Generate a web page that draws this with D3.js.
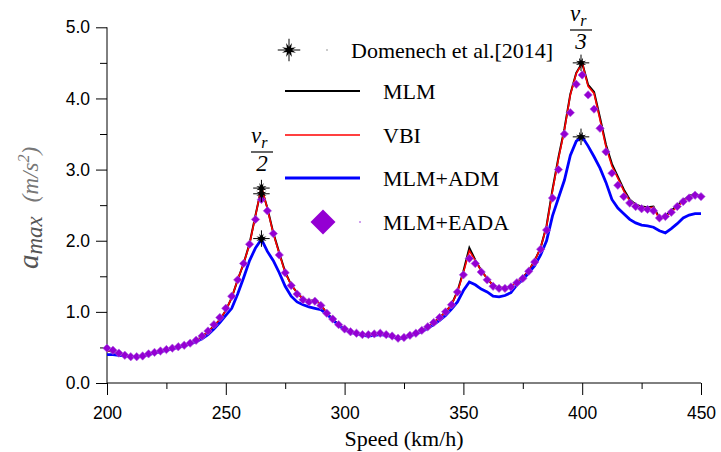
<!DOCTYPE html>
<html>
<head>
<meta charset="utf-8">
<script src="https://cdn.jsdelivr.net/npm/d3@7"></script>
<style>
  body { margin: 0; background: #fff; }
  svg { display: block; }
</style>
</head>
<body>
<div id="chart"></div>
<script>
// speed grid (km/h), 2.5 steps
var speeds = [200,202.5,205,207.5,210,212.5,215,217.5,220,222.5,225,227.5,230,232.5,235,237.5,240,242.5,245,247.5,
  250,252.5,255,257.5,260,262.5,265,267.5,270,272.5,275,277.5,280,282.5,285,287.5,290,292.5,295,297.5,
  300,302.5,305,307.5,310,312.5,315,317.5,320,322.5,325,327.5,330,332.5,335,337.5,340,342.5,345,347.5,
  350,352.5,355,357.5,360,362.5,365,367.5,370,372.5,375,377.5,380,382.5,385,387.5,390,392.5,395,397.5,
  400,402.5,405,407.5,410,412.5,415,417.5,420,422.5,425,427.5,430,432.5,435,437.5,440,442.5,445,447.5,450];

var vbi = [0.46,0.44,0.41,0.39,0.37,0.37,0.38,0.40,0.42,0.44,0.47,0.49,0.51,0.53,0.56,0.60,0.65,0.72,0.80,0.89,
  1.02,1.20,1.45,1.68,1.95,2.35,2.76,2.45,2.10,1.82,1.55,1.38,1.27,1.18,1.15,1.17,1.10,0.98,0.90,0.82,
  0.76,0.72,0.70,0.68,0.67,0.69,0.70,0.68,0.66,0.63,0.64,0.67,0.70,0.74,0.79,0.85,0.92,1.00,1.10,1.28,
  1.55,1.86,1.72,1.58,1.47,1.37,1.34,1.34,1.36,1.42,1.48,1.58,1.72,1.90,2.20,2.70,3.15,3.55,4.05,4.35,
  4.50,4.17,4.07,3.70,3.32,3.05,2.88,2.70,2.56,2.50,2.47,2.46,2.47,2.30,2.33,2.40,2.48,2.55,2.61,2.65,2.62];

var mlm = [0.46,0.44,0.41,0.39,0.37,0.37,0.38,0.40,0.42,0.44,0.47,0.49,0.51,0.53,0.56,0.60,0.65,0.72,0.80,0.89,
  1.02,1.20,1.45,1.68,1.96,2.36,2.74,2.46,2.11,1.83,1.56,1.38,1.27,1.18,1.15,1.17,1.10,0.98,0.90,0.82,
  0.76,0.72,0.70,0.68,0.67,0.69,0.70,0.68,0.66,0.63,0.64,0.67,0.70,0.74,0.79,0.85,0.92,1.00,1.10,1.29,
  1.57,1.90,1.73,1.58,1.47,1.37,1.34,1.34,1.36,1.42,1.48,1.58,1.72,1.90,2.21,2.72,3.17,3.57,4.06,4.36,
  4.50,4.19,4.09,3.73,3.35,3.08,2.90,2.72,2.58,2.51,2.48,2.47,2.48,2.32,2.35,2.42,2.50,2.57,2.63,2.66,2.63];

var adm = [0.40,0.40,0.39,0.38,0.37,0.37,0.38,0.40,0.42,0.44,0.46,0.48,0.50,0.52,0.55,0.58,0.62,0.68,0.76,0.85,
  0.95,1.05,1.25,1.48,1.72,1.90,2.02,1.85,1.72,1.55,1.36,1.22,1.14,1.10,1.07,1.05,1.03,0.97,0.89,0.81,
  0.75,0.71,0.69,0.67,0.66,0.67,0.68,0.67,0.65,0.62,0.63,0.66,0.69,0.72,0.77,0.82,0.88,0.95,1.04,1.14,
  1.30,1.42,1.38,1.32,1.28,1.22,1.21,1.23,1.27,1.38,1.45,1.55,1.65,1.80,2.00,2.35,2.60,2.85,3.20,3.40,
  3.46,3.33,3.18,3.02,2.82,2.58,2.46,2.38,2.30,2.25,2.22,2.21,2.19,2.14,2.11,2.17,2.24,2.32,2.36,2.38,2.38];

var eada = [0.49,0.46,0.42,0.39,0.37,0.37,0.38,0.41,0.43,0.45,0.47,0.49,0.51,0.53,0.56,0.60,0.66,0.73,0.82,0.92,
  1.05,1.22,1.45,1.68,1.95,2.30,2.58,2.42,2.10,1.80,1.55,1.37,1.25,1.17,1.14,1.15,1.09,0.98,0.90,0.82,
  0.76,0.72,0.70,0.68,0.68,0.69,0.70,0.68,0.66,0.63,0.64,0.67,0.70,0.74,0.79,0.85,0.92,1.00,1.10,1.28,
  1.52,1.75,1.68,1.56,1.45,1.36,1.33,1.33,1.35,1.41,1.47,1.57,1.70,1.88,2.15,2.60,3.00,3.50,3.80,4.20,
  4.33,4.05,3.85,3.58,3.25,2.95,2.78,2.62,2.53,2.48,2.45,2.44,2.42,2.32,2.34,2.40,2.48,2.55,2.60,2.64,2.62];

// Domenech et al. [2014] reference points
var domSpeed = [265, 265, 265, 399.5, 399.5];
var domAcc = [2.74, 2.66, 2.03, 4.50, 3.46];

var xTicks = [200, 250, 300, 350, 400, 450];
var yTicks = [0, 1, 2, 3, 4, 5];

var SERIF = "'Liberation Serif', 'Times New Roman', Times, serif";
var SANS = "'Liberation Sans', Arial, Helvetica, sans-serif";

var W = 721, H = 452;
var svg = d3.select("#chart").append("svg").attr("width", W).attr("height", H);

var x = d3.scaleLinear().domain([200, 450]).range([107, 701]);
var y = d3.scaleLinear().domain([0, 5]).range([383, 27.3]);

// axes
svg.append("g").attr("transform", "translate(0,383)")
  .call(d3.axisBottom(x).tickValues(xTicks).tickFormat(d3.format("d")).tickSize(12).tickPadding(12));
svg.append("g").attr("transform", "translate(0,383)")
  .call(d3.axisBottom(x).tickValues(d3.range(225, 450, 50)).tickFormat("").tickSize(6));
svg.append("g").attr("transform", "translate(107,0)")
  .call(d3.axisLeft(y).tickValues(yTicks).tickFormat(d3.format(".1f")).tickSize(11).tickPadding(6));
svg.append("g").attr("transform", "translate(107,0)")
  .call(d3.axisLeft(y).tickValues([0.5, 1.5, 2.5, 3.5, 4.5]).tickFormat("").tickSize(7));
// plain axis lines without end caps
svg.selectAll(".domain").remove();
svg.append("line").attr("x1", 107).attr("x2", 107).attr("y1", y(5)).attr("y2", 383).attr("stroke", "#000");
svg.append("line").attr("x1", 107).attr("x2", 701).attr("y1", 383).attr("y2", 383).attr("stroke", "#000");
svg.selectAll(".tick line").attr("stroke", "#000");
svg.selectAll(".tick text").attr("font-family", SANS).attr("font-size", 17.5).attr("fill", "#000");

// axis titles
svg.append("text").attr("font-family", SERIF).attr("x", 404).attr("y", 446)
  .attr("text-anchor", "middle").attr("font-size", 22).text("Speed (km/h)");

var yl = svg.append("text").attr("font-family", SERIF)
  .attr("transform", "translate(38,208) rotate(-90)")
  .attr("text-anchor", "middle").attr("font-style", "italic");
yl.append("tspan").attr("font-size", 29).attr("fill", "#555").text("a");
yl.append("tspan").attr("font-size", 23).attr("fill", "#555").attr("dy", 4).text("max");
yl.append("tspan").attr("font-size", 23).attr("fill", "#777").attr("dy", -4).attr("dx", 14).text("(m/s");
yl.append("tspan").attr("font-size", 16).attr("fill", "#777").attr("dy", -9).text("2");
yl.append("tspan").attr("font-size", 23).attr("fill", "#777").attr("dy", 9).text(")");

// curves
var pts = function (vals) { return speeds.map(function (s, i) { return [s, vals[i]]; }); };
var line = d3.line().x(function (d) { return x(d[0]); }).y(function (d) { return y(d[1]); });

svg.append("path").attr("d", line(pts(mlm))).attr("fill", "none").attr("stroke", "#000").attr("stroke-width", 2);
svg.append("path").attr("d", line(pts(vbi))).attr("fill", "none").attr("stroke", "#ff0000").attr("stroke-width", 1.6);
svg.append("path").attr("d", line(pts(adm))).attr("fill", "none").attr("stroke", "#0000ff").attr("stroke-width", 2.8);

var diamond = function (r) { return "M0," + (-r) + "L" + r + ",0L0," + r + "L" + (-r) + ",0Z"; };
svg.append("g").selectAll("path").data(pts(eada)).join("path")
  .attr("transform", function (d) { return "translate(" + x(d[0]) + "," + y(d[1]) + ")"; })
  .attr("d", diamond(4.2)).attr("fill", "#9400d3").attr("stroke", "#b060e0").attr("stroke-width", 0.6);

// star marker: 8-point star with thin cross
var starPath = function (r) {
  var p = [];
  for (var i = 0; i < 16; i++) {
    var a = i * Math.PI / 8 + Math.PI / 8;
    var rr = i % 2 === 0 ? r : r * 0.4;
    p.push([rr * Math.cos(a), rr * Math.sin(a)]);
  }
  return "M" + p.join("L") + "Z";
};
var drawStar = function (g, r) {
  g.append("path").attr("d", starPath(r)).attr("fill", "#000");
  g.append("line").attr("x1", -r * 1.5).attr("x2", r * 1.5).attr("stroke", "#000").attr("stroke-width", 1);
  g.append("line").attr("y1", -r * 1.5).attr("y2", r * 1.5).attr("stroke", "#000").attr("stroke-width", 1);
};
domSpeed.forEach(function (s, i) {
  drawStar(svg.append("g").attr("transform", "translate(" + x(s) + "," + y(domAcc[i]) + ")"), 5.5);
});

// resonance annotations
var frac = function (cx, top, den) {
  var t = svg.append("text").attr("font-family", SERIF).attr("font-style", "italic")
    .attr("x", cx - 11).attr("y", top);
  t.append("tspan").attr("font-size", 23).text("v");
  t.append("tspan").attr("font-size", 16).attr("dy", 5).text("r");
  svg.append("line").attr("x1", cx - 11).attr("x2", cx + 11).attr("y1", top + 9).attr("y2", top + 9)
    .attr("stroke", "#000").attr("stroke-width", 1.2);
  svg.append("text").attr("font-family", SERIF).attr("font-style", "italic").attr("font-size", 23)
    .attr("text-anchor", "middle").attr("x", cx).attr("y", top + 28).text(den);
};
frac(262, 143, "2");
frac(581, 21, "3");

// legend
var legend = svg.append("g");
drawStar(legend.append("g").attr("transform", "translate(289,50)"), 7.5);
legend.append("circle").attr("cx", 327).attr("cy", 50).attr("r", 0.8).attr("fill", "#888");
legend.append("text").attr("font-family", SERIF).attr("font-size", 22)
  .attr("x", 351).attr("y", 58).text("Domenech et al.[2014]");

var keys = [
  { name: "MLM", color: "#000", w: 2, y: 91 },
  { name: "VBI", color: "#ff0000", w: 1.6, y: 135 },
  { name: "MLM+ADM", color: "#0000ff", w: 2.8, y: 178 }
];
keys.forEach(function (k) {
  legend.append("line").attr("x1", 285).attr("x2", 360).attr("y1", k.y).attr("y2", k.y)
    .attr("stroke", k.color).attr("stroke-width", k.w);
  legend.append("text").attr("font-family", SERIF).attr("font-size", 22)
    .attr("x", 383).attr("y", k.y + 8).text(k.name);
});
legend.append("path").attr("transform", "translate(323,222)").attr("d", diamond(12.5)).attr("fill", "#9400d3");
legend.append("circle").attr("cx", 360).attr("cy", 222).attr("r", 1).attr("fill", "#c080e8");
legend.append("text").attr("font-family", SERIF).attr("font-size", 22)
  .attr("x", 383).attr("y", 230).text("MLM+EADA");
</script>
</body>
</html>
